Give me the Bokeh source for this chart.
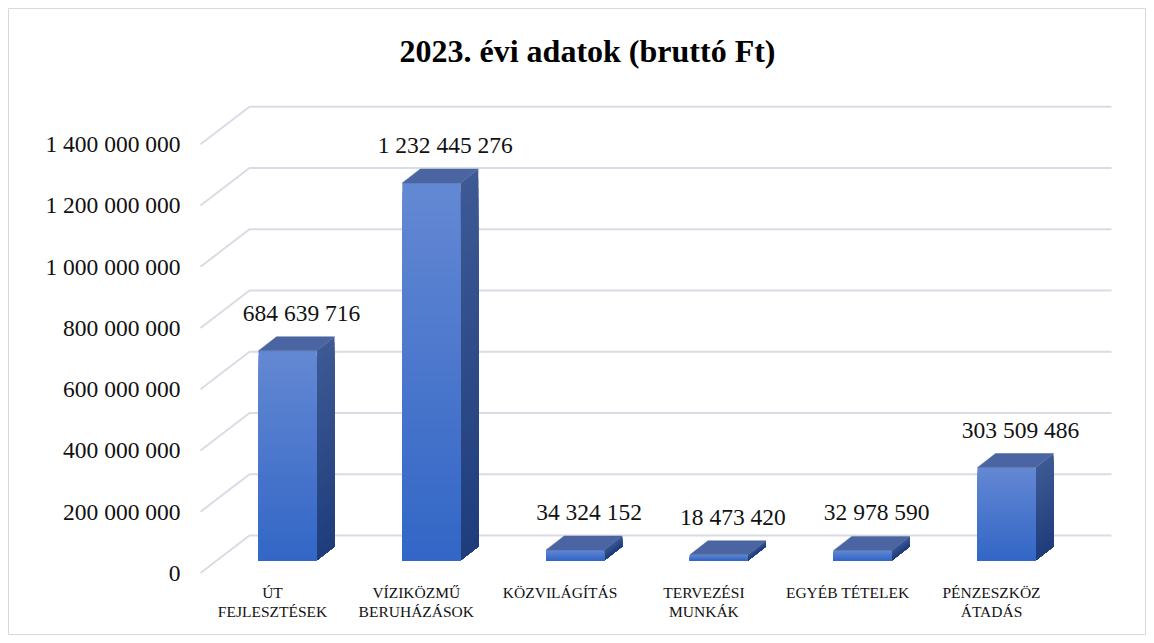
from bokeh.plotting import figure
from bokeh.models import Range1d
from bokeh.embed import file_html
from bokeh.resources import INLINE
from bokeh.core.properties import value

# ---------------- data ----------------
title_text = "2023. évi adatok (bruttó Ft)"
categories = ["ÚT\nFEJLESZTÉSEK", "VÍZIKÖZMŰ\nBERUHÁZÁSOK", "KÖZVILÁGÍTÁS",
              "TERVEZÉSI\nMUNKÁK", "EGYÉB TÉTELEK", "PÉNZESZKÖZ\nÁTADÁS"]
amounts = [684639716, 1232445276, 34324152, 18473420, 32978590, 303509486]
tick_values = [0, 200000000, 400000000, 600000000, 800000000,
               1000000000, 1200000000, 1400000000]
tick_labels = ["0", "200 000 000", "400 000 000", "600 000 000", "800 000 000",
               "1 000 000 000", "1 200 000 000", "1 400 000 000"]

# ---------------- layout / scales ----------------
W, H = 1138, 627            # frame size
M = 8                       # margin before the frame
PX_PER_CAT = 143.8          # px per category
PX_PER_UNIT = 0.3063e-6     # px per Ft
UPY = 1.0 / PX_PER_UNIT
X0_PX = 279                 # frame x of category 0 (bar front centre)
Y0_PX = 100                 # frame px from bottom of value 0 on back wall

x_range = Range1d(-X0_PX / PX_PER_CAT, (W - X0_PX) / PX_PER_CAT)
y_range = Range1d(-Y0_PX * UPY, (H - Y0_PX) * UPY)


def dx(px):
    return px / PX_PER_CAT


def dy(px):
    return px * UPY


SERIF = value("Liberation Serif")

p = figure(width=W + M, height=H + M, x_range=x_range, y_range=y_range,
           output_backend="svg", toolbar_location=None,
           x_axis_location=None, y_axis_location=None,
           min_border_left=M, min_border_top=M, min_border_right=0, min_border_bottom=0)
p.grid.visible = False
p.outline_line_color = "#D9D9D9"
p.outline_line_width = 1
p.background_fill_color = "white"
p.border_fill_color = "white"

# ---------------- 3D gridlines ----------------
wall_left = dx(241 - X0_PX)
wall_right = dx(1103 - X0_PX)
front_dx = dx(49)
front_dy = dy(37.5)
gx, gy = [], []
for v in tick_values:
    gx.append([wall_left - front_dx, wall_left, wall_right])
    gy.append([v - front_dy, v, v])
p.multi_line(gx, gy, line_color="#D9DCE4", line_width=2)

# tick labels
p.text(x=[wall_left - front_dx - dx(20)] * len(tick_values),
       y=[v - front_dy for v in tick_values], text=tick_labels,
       text_align="right", text_baseline="middle", text_font=SERIF,
       text_font_size="23.5px", text_color="#111111")


# ---------------- bars ----------------
def lerp_color(c0, c1, t):
    a = [int(c0[i:i + 2], 16) for i in (1, 3, 5)]
    b = [int(c1[i:i + 2], 16) for i in (1, 3, 5)]
    return "#%02x%02x%02x" % tuple(int(round(a[k] + (b[k] - a[k]) * t)) for k in range(3))


FRONT_BOT, FRONT_TOP = "#3266C6", "#6488D3"
SIDE_BOT, SIDE_TOP = "#1F3D7B", "#3E5A95"
TOP_COL = "#4A65A1"
half_w = dx(29)
ddx, ddy = dx(18), dy(14)
base = -dy(25)
N = 40

ql, qr, qb, qt, qc = [], [], [], [], []
sx, sy, sc = [], [], []
tx, ty = [], []
for i, v in enumerate(amounts):
    y0, y1 = base, v + base
    xl, xr = i - half_w, i + half_w
    # layered from full height down, so no seams appear
    for j in range(N, 0, -1):
        t = y0 + (y1 - y0) * j / N
        frac = (j - 0.5) / N
        ql.append(xl); qr.append(xr); qb.append(y0); qt.append(t)
        qc.append(lerp_color(FRONT_BOT, FRONT_TOP, frac))
        sx.append([xr, xr + ddx, xr + ddx, xr])
        sy.append([y0, y0 + ddy, t + ddy, t])
        sc.append(lerp_color(SIDE_BOT, SIDE_TOP, frac))
    tx.append([xl, xr, xr + ddx, xl + ddx])
    ty.append([y1, y1, y1 + ddy, y1 + ddy])

p.patches(sx, sy, fill_color=sc, line_color=None)
p.quad(left=ql, right=qr, bottom=qb, top=qt, fill_color=qc, line_color=None)
p.patches(tx, ty, fill_color=TOP_COL, line_color=TOP_COL, line_width=0.5)

# value labels
val_text = [f"{v:,}".replace(",", " ") for v in amounts]
p.text(x=[i + dx(14) for i in range(len(amounts))],
       y=[v + base + dy(38) for v in amounts], text=val_text,
       text_align="center", text_baseline="middle", text_font=SERIF,
       text_font_size="23.5px", text_color="#111111")

# category labels
p.text(x=[i - dx(15) for i in range(len(categories))],
       y=[-dy(48)] * len(categories), text=categories,
       text_align="center", text_baseline="top", text_font=SERIF,
       text_font_size="15.5px", text_color="#111111", text_line_height=1.15)

# title
p.text(x=[dx(579 - X0_PX)], y=[dy(H - Y0_PX - 42)], text=[title_text],
       text_align="center", text_baseline="middle", text_font=SERIF,
       text_font_style="bold", text_font_size="32px", text_color="#000000")

open("out.html", "w").write(file_html(p, INLINE))
